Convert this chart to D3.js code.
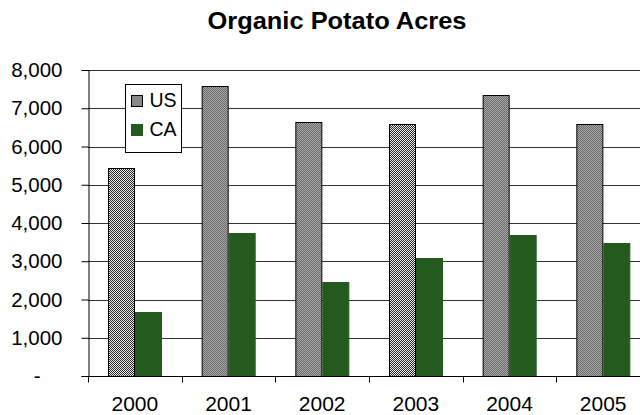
<!DOCTYPE html>
<html>
<head>
<meta charset="utf-8">
<script src="https://cdn.jsdelivr.net/npm/d3@7"></script>
<style>
  html, body { margin: 0; padding: 0; background: #fff; }
  svg { display: block; font-family: "Liberation Sans", Arial, sans-serif; }
</style>
</head>
<body>
<svg id="chart" width="640" height="415"></svg>
<script>
// data
let years = ["2000", "2001", "2002", "2003", "2004", "2005"];
let seriesNames = ["US", "CA"];
let usAcres = [5450, 7575, 6630, 6600, 7340, 6600];
let caAcres = [1665, 3750, 2460, 3080, 3690, 3470];
let yTicks = [0, 1000, 2000, 3000, 4000, 5000, 6000, 7000, 8000];

let rows = years.map((y, i) => ({ year: y, US: usAcres[i], CA: caAcres[i] }));

let svg = d3.select("#chart");
let width = 640, height = 415;
let margin = { top: 70, left: 88, bottom: 39 };

let x = d3.scaleBand()
    .domain(years)
    .range([margin.left, 650])
    .padding(0);

/* excel gap width 150% -> bar = band / 3.5 */
let barW = x.bandwidth() / 3.5;
let xs = d3.scaleBand()
    .domain(seriesNames)
    .range([barW * 0.75, barW * 2.75]);

let y = d3.scaleLinear()
    .domain([0, 8000])
    .range([height - margin.bottom, margin.top]);

// checker fill for the US series
let defs = svg.append("defs");
let pat = defs.append("pattern")
    .attr("id", "checker")
    .attr("patternUnits", "userSpaceOnUse")
    .attr("width", 2).attr("height", 2);
pat.append("rect").attr("width", 2).attr("height", 2).attr("fill", "#e8e8e8");
pat.append("rect").attr("x", 0).attr("y", 0).attr("width", 1).attr("height", 1).attr("fill", "#2a2a2a");
pat.append("rect").attr("x", 1).attr("y", 1).attr("width", 1).attr("height", 1).attr("fill", "#2a2a2a");

let colors = { US: "url(#checker)", CA: "#255a1f" };

// title (the source text is drawn a bit wide, so stretch to its length)
svg.append("text")
    .attr("x", 337)
    .attr("y", 29)
    .attr("text-anchor", "middle")
    .attr("font-size", "23px")
    .attr("font-weight", "bold")
    .attr("textLength", 259)
    .attr("lengthAdjust", "spacingAndGlyphs")
    .text("Organic Potato Acres");

// gridlines
svg.append("g")
    .selectAll("line")
    .data(yTicks.filter(d => d > 0))
    .join("line")
    .attr("x1", margin.left)
    .attr("x2", width)
    .attr("y1", d => Math.round(y(d)) + 0.5)
    .attr("y2", d => Math.round(y(d)) + 0.5)
    .attr("stroke", "#333")
    .attr("stroke-width", 1);

// bars
let groups = svg.append("g")
    .selectAll("g")
    .data(rows)
    .join("g")
    .attr("transform", d => "translate(" + x(d.year) + ",0)");

groups.selectAll("rect")
    .data(d => seriesNames.map(s => ({ key: s, value: d[s] })))
    .join("rect")
    .attr("x", d => Math.round(xs(d.key)) + 0.5)
    .attr("y", d => Math.round(y(d.value)) + 0.5)
    .attr("width", Math.round(xs.bandwidth()) - 1)
    .attr("height", d => Math.round(y(0)) - Math.round(y(d.value)))
    .attr("fill", d => colors[d.key])
    .attr("stroke", d => d.key === "US" ? "#000" : "#255a1f")
    .attr("stroke-width", 1);

// y axis
let yAxis = svg.append("g")
    .attr("transform", "translate(" + (margin.left + 0.5) + ",0)")
    .call(d3.axisLeft(y)
        .tickValues(yTicks)
        .tickSize(7)
        .tickPadding(19)
        .tickFormat(d => d === 0 ? "-" : d3.format(",")(d)));
yAxis.select(".domain").attr("stroke", "#000");
yAxis.selectAll(".tick line").attr("stroke", "#000");
yAxis.selectAll(".tick text")
    .attr("font-size", "20.5px")
    .attr("font-family", "Liberation Sans, Arial, sans-serif")
    .attr("fill", "#000");
yAxis.selectAll(".tick text").filter(d => d === 0).attr("dx", "-22px");

// x axis: ticks at category boundaries
let xAxisG = svg.append("g")
    .attr("transform", "translate(0," + (Math.round(y(0)) + 0.5) + ")");
xAxisG.append("line")
    .attr("x1", margin.left).attr("x2", width)
    .attr("stroke", "#000");
xAxisG.selectAll("line.tk")
    .data(years)
    .join("line")
    .attr("class", "tk")
    .attr("x1", d => Math.round(x(d)) + 0.5)
    .attr("x2", d => Math.round(x(d)) + 0.5)
    .attr("y1", 0).attr("y2", 6)
    .attr("stroke", "#000");
xAxisG.selectAll("text")
    .data(years)
    .join("text")
    .attr("x", d => x(d) + x.bandwidth() / 2)
    .attr("y", 34)
    .attr("text-anchor", "middle")
    .attr("font-size", "21px")
    .text(d => d);

// legend
let legend = svg.append("g").attr("transform", "translate(125.5,84.5)");
legend.append("rect")
    .attr("width", 56).attr("height", 68)
    .attr("fill", "#fff").attr("stroke", "#000");
let items = legend.selectAll("g")
    .data(seriesNames)
    .join("g")
    .attr("transform", (d, i) => "translate(6," + (11 + i * 29) + ")");
items.append("rect")
    .attr("width", 11).attr("height", 11)
    .attr("fill", d => colors[d])
    .attr("stroke", d => d === "US" ? "#000" : "#255a1f");
items.append("text")
    .attr("x", 18).attr("y", 11)
    .attr("font-size", "19.5px")
    .text(d => d);
</script>
</body>
</html>
